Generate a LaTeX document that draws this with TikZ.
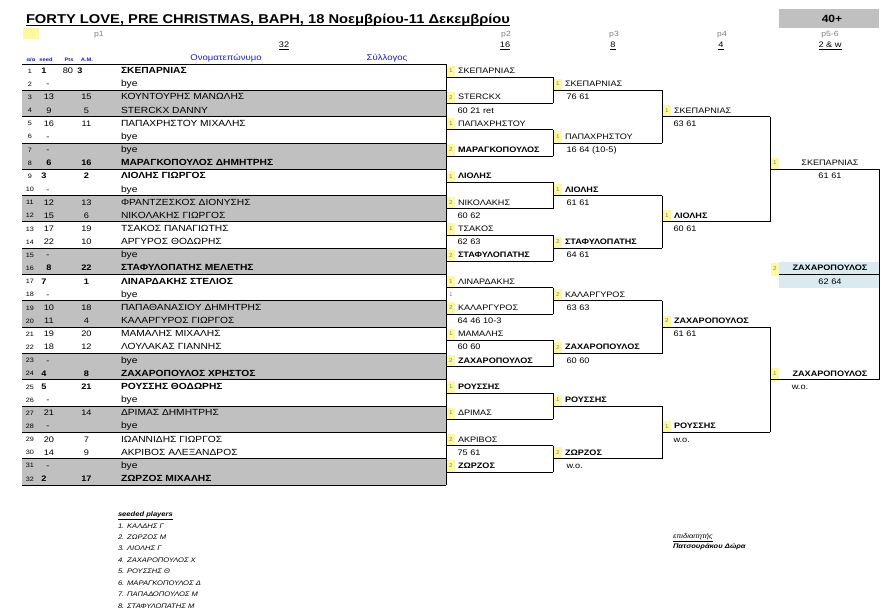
\documentclass[tikz,border=0pt]{standalone}
\usepackage{fontspec}
\setmainfont{Liberation Sans}[FakeStretch=1.15]
\definecolor{rowgrey}{RGB}{192,192,192}
\definecolor{seedyel}{RGB}{252,249,160}
\definecolor{finalblue}{RGB}{218,234,241}
\definecolor{hdrblue}{RGB}{25,25,210}
\definecolor{lblgrey}{RGB}{128,128,128}
\pgfmathdeclarefunction{yc}{1}{\pgfmathparse{64+(#1-0.5)*13.16}}
\pgfmathdeclarefunction{yb}{1}{\pgfmathparse{64+(#1)*13.16}}
\newcommand\fs[1]{\fontsize{#1}{#1}\selectfont}
\tikzset{
 base/.style={inner sep=0pt, outer sep=0pt},
 nm/.style={base, anchor=base west, font=\fs{7.9}},
 tnm/.style={base, anchor=base west, font=\fs{8.9}},
 ctrtxt/.style={base, anchor=base, font=\fs{8}},
 rownum/.style={base, anchor=base, font=\fs{6.3}},
 sdnum/.style={base, anchor=base, font=\fs{5.5}, text=lblgrey},
 score/.style={base, anchor=base west, font=\fs{8}},
 bline/.style={line width=0.9pt},
 tline/.style={line width=0.9pt},
 plbl/.style={base, anchor=base, font=\fs{7.5}, text=lblgrey},
 pnum/.style={base, anchor=base, font=\fs{8}},
 hdr/.style={base, anchor=base, font=\bfseries\fs{5}, text=hdrblue},
 foot/.style={base, anchor=base west, font=\itshape\fs{6.6}},
}
% #1 prefix, #2 x0, #3 x1, #4 row, #5 seed, #6 name, #7 bold
\newcommand\bentry[7]{%
 \coordinate (#1a#4) at (#2,{yb(#4)});
 \coordinate (#1b#4) at (#3,{yb(#4)});
 \fill[seedyel] (#2+0.8,{yb(#4-1)+1.5}) rectangle (#2+9.3,{yb(#4)-0.3});
 \draw[bline] (#1a#4) -- (#1b#4);
 \node[sdnum] (#1s#4) at (#2+5,{yc(#4)+2.2}) {#5};
 \node[nm] (#1n#4) at (#2+12,{yc(#4)+3}) {\ifnum#7=1 \bfseries\fi #6};
}
\begin{document}
\begin{tikzpicture}[x=1pt,y=-1pt]
\useasboundingbox[fill=white] (0,0) rectangle (892,616);

% ---------- header ----------
\node[base, anchor=base west, font=\bfseries\fs{12.8}] (title) at (26,23.3)
 {FORTY LOVE, PRE CHRISTMAS, ΒΑΡΗ, 18 Νοεμβρίου-11 Δεκεμβρίου};
\draw[line width=1.1pt] ([yshift=-2.3pt]title.base west) -- ([yshift=-2.3pt]title.base east);
\node[base, fill=rowgrey, minimum width=100pt, minimum height=19pt, anchor=north west] (agebox) at (779,9) {};
\node[base, anchor=base, font=\bfseries\fs{10.5}] (age) at (832,22.5) {40+};
\node[base, fill=seedyel, minimum width=16pt, minimum height=11pt, anchor=north west] (hy) at (23,28) {};

\node[plbl] (p1) at (99,36) {p1};
\node[plbl] (p2) at (506,36) {p2};
\node[plbl] (p3) at (614,36) {p3};
\node[plbl] (p4) at (722,36) {p4};
\node[plbl] (p5) at (830,36) {p5-6};
\node[pnum] (n32) at (284,47.5) {\underline{32}};
\node[pnum] (n16) at (505,47.5) {\underline{16}};
\node[pnum] (n8) at (613,47.5) {\underline{8}};
\node[pnum] (n4) at (721,47.5) {\underline{4}};
\node[pnum] (n2) at (830,47.5) {\underline{2 \& w}};

\node[hdr] (h1) at (31,61) {α/α};
\node[hdr] (h2) at (46,61) {seed};
\node[hdr] (h3) at (69,61) {Pts};
\node[hdr] (h4) at (87,61) {Α.Μ.};
\node[base, anchor=base, font=\fs{8.3}, text=hdrblue] (h5) at (226,60.5) {Ονοματεπώνυμο};
\node[base, anchor=base, font=\fs{8.3}, text=hdrblue] (h6) at (387,60.5) {Σύλλογος};

% ---------- table ----------
\foreach \i in {3,7,...,31}
  \fill[rowgrey] (22,{yb(\i-1)}) rectangle (446,{yb(\i+1)});
\foreach \k in {0,...,16}
  \draw[tline] (22,{yb(2*\k)}) -- (446,{yb(2*\k)});
\coordinate (vt) at (446,{yb(0)});
\coordinate (vb) at (446,{yb(32)});
\draw[bline] (vt) -- (vb);

\node[rownum] (no1) at (30,{yc(1)+2.6}) {1};
\node[ctrtxt, font=\bfseries\fs{8}] (sd1) at (44,{yc(1)+3}) {1};
\node[ctrtxt] (pt1) at (68,{yc(1)+3}) {80};
\node[ctrtxt, font=\bfseries\fs{8}] (am1) at (80,{yc(1)+3}) {3};
\node[tnm, font=\bfseries\fs{8.9}] (nm1) at (121,{yc(1)+3}) {ΣΚΕΠΑΡΝΙΑΣ};

\foreach \i/\s/\sx/\a/\n/\w in {
 2/-/48//bye/0,
 3/13/49/15/ΚΟΥΝΤΟΥΡΗΣ ΜΑΝΩΛΗΣ/0,
 4/9/49/5/STERCKX DANNY/0,
 5/16/49/11/ΠΑΠΑΧΡΗΣΤΟΥ ΜΙΧΑΛΗΣ/0,
 6/-/48//bye/0,
 7/-/48//bye/0,
 8/6/49/16/ΜΑΡΑΓΚΟΠΟΥΛΟΣ ΔΗΜΗΤΡΗΣ/1,
 9/3/44/2/ΛΙΟΛΗΣ ΓΙΩΡΓΟΣ/1,
 10/-/48//bye/0,
 11/12/49/13/ΦΡΑΝΤΖΕΣΚΟΣ ΔΙΟΝΥΣΗΣ/0,
 12/15/49/6/ΝΙΚΟΛΑΚΗΣ ΓΙΩΡΓΟΣ/0,
 13/17/49/19/ΤΣΑΚΟΣ ΠΑΝΑΓΙΩΤΗΣ/0,
 14/22/49/10/ΑΡΓΥΡΟΣ ΘΟΔΩΡΗΣ/0,
 15/-/48//bye/0,
 16/8/49/22/ΣΤΑΦΥΛΟΠΑΤΗΣ ΜΕΛΕΤΗΣ/1,
 17/7/44/1/ΛΙΝΑΡΔΑΚΗΣ ΣΤΕΛΙΟΣ/1,
 18/-/48//bye/0,
 19/10/49/18/ΠΑΠΑΘΑΝΑΣΙΟΥ ΔΗΜΗΤΡΗΣ/0,
 20/11/49/4/ΚΑΛΑΡΓΥΡΟΣ ΓΙΩΡΓΟΣ/0,
 21/19/49/20/ΜΑΜΑΛΗΣ ΜΙΧΑΛΗΣ/0,
 22/18/49/12/ΛΟΥΛΑΚΑΣ ΓΙΑΝΝΗΣ/0,
 23/-/48//bye/0,
 24/4/44/8/ΖΑΧΑΡΟΠΟΥΛΟΣ ΧΡΗΣΤΟΣ/1,
 25/5/44/21/ΡΟΥΣΣΗΣ ΘΟΔΩΡΗΣ/1,
 26/-/48//bye/0,
 27/21/49/14/ΔΡΙΜΑΣ ΔΗΜΗΤΡΗΣ/0,
 28/-/48//bye/0,
 29/20/49/7/ΙΩΑΝΝΙΔΗΣ ΓΙΩΡΓΟΣ/0,
 30/14/49/9/ΑΚΡΙΒΟΣ ΑΛΕΞΑΝΔΡΟΣ/0,
 31/-/48//bye/0,
 32/2/44/17/ΖΩΡΖΟΣ ΜΙΧΑΛΗΣ/1}{
  \node[rownum] (no\i) at (30,{yc(\i)+2.6}) {\i};
  \node[ctrtxt] (sd\i) at (\sx,{yc(\i)+3}) {\ifnum\w=1 \bfseries\fi\s};
  \node[ctrtxt] (am\i) at (86.5,{yc(\i)+3}) {\ifnum\w=1 \bfseries\fi\a};
  \node[tnm] (nm\i) at (121,{yc(\i)+3}) {\ifnum\w=1 \bfseries\fi\n};
}

% ---------- round 2 (p2) ----------
\foreach \r/\s/\n/\w in {1/1/ΣΚΕΠΑΡΝΙΑΣ/0, 3/2/STERCKX/0, 5/1/ΠΑΠΑΧΡΗΣΤΟΥ/0,
  7/2/ΜΑΡΑΓΚΟΠΟΥΛΟΣ/1, 9/1/ΛΙΟΛΗΣ/1, 11/2/ΝΙΚΟΛΑΚΗΣ/0, 13/1/ΤΣΑΚΟΣ/0,
  15/2/ΣΤΑΦΥΛΟΠΑΤΗΣ/1, 17/1/ΛΙΝΑΡΔΑΚΗΣ/0, 19/2/ΚΑΛΑΡΓΥΡΟΣ/0, 21/1/ΜΑΜΑΛΗΣ/0,
  23/2/ΖΑΧΑΡΟΠΟΥΛΟΣ/1, 25/1/ΡΟΥΣΣΗΣ/1, 27/1/ΔΡΙΜΑΣ/0, 29/2/ΑΚΡΙΒΟΣ/0, 31/2/ΖΩΡΖΟΣ/1}
  {\bentry{qa}{446}{553}{\r}{\s}{\n}{\w}}
\foreach \r/\t in {4/60 21 ret, 12/60 62, 14/62 63, 20/64 46 10-3, 22/60 60, 30/75 61}
  \node[score] (qc\r) at (457.5,{yc(\r)+3}) {\t};
\node[sdnum] (qx18) at (451,{yc(18)+2.2}) {1};
\foreach \r in {1,5,...,29}{
  \pgfmathtruncatemacro\rr{\r+2}
  \draw[bline] (qab\r) -- (qab\rr);
}

% ---------- round 3 (p3) ----------
\foreach \r/\s/\n/\w in {2/1/ΣΚΕΠΑΡΝΙΑΣ/0, 6/1/ΠΑΠΑΧΡΗΣΤΟΥ/0, 10/1/ΛΙΟΛΗΣ/1,
  14/2/ΣΤΑΦΥΛΟΠΑΤΗΣ/1, 18/2/ΚΑΛΑΡΓΥΡΟΣ/0, 22/2/ΖΑΧΑΡΟΠΟΥΛΟΣ/1, 26/1/ΡΟΥΣΣΗΣ/1, 30/2/ΖΩΡΖΟΣ/1}
  {\bentry{qb}{553}{662}{\r}{\s}{\n}{\w}}
\foreach \r/\t in {3/76 61, 7/{16 64 (10-5)}, 11/61 61, 15/64 61, 19/63 63, 23/60 60, 31/w.o.}
  \node[score] (qbc\r) at (566.5,{yc(\r)+3}) {\t};
\foreach \r in {2,10,18,26}{
  \pgfmathtruncatemacro\rr{\r+4}
  \draw[bline] (qbb\r) -- (qbb\rr);
}

% ---------- round 4 (p4) ----------
\foreach \r/\s/\n/\w in {4/1/ΣΚΕΠΑΡΝΙΑΣ/0, 12/1/ΛΙΟΛΗΣ/1, 20/2/ΖΑΧΑΡΟΠΟΥΛΟΣ/1, 28/1/ΡΟΥΣΣΗΣ/1}
  {\bentry{qd}{662}{770}{\r}{\s}{\n}{\w}}
\foreach \r/\t in {5/63 61, 13/60 61, 21/61 61, 29/w.o.}
  \node[score] (qdc\r) at (673.5,{yc(\r)+3}) {\t};
\draw[bline] (qdb4) -- (qdb12);
\draw[bline] (qdb20) -- (qdb28);

% ---------- round 5 (p5-6) ----------
\foreach \r/\s/\n/\w in {8/1/ΣΚΕΠΑΡΝΙΑΣ/0, 24/1/ΖΑΧΑΡΟΠΟΥΛΟΣ/1}{
  \coordinate (qea\r) at (770,{yb(\r)});
  \coordinate (qeb\r) at (879,{yb(\r)});
  \fill[seedyel] (770.5,{yb(\r-1)+1.5}) rectangle (779,{yb(\r)+1});
  \draw[bline] (qea\r) -- (qeb\r);
  \node[sdnum] (qes\r) at (774.8,{yc(\r)+2.2}) {\s};
  \node[nm, anchor=base] (qen\r) at (830,{yc(\r)+3}) {\ifnum\w=1 \bfseries\fi\n};
}
\node[score, anchor=base] (qec9) at (830,{yc(9)+3}) {61 61};
\node[score, anchor=base] (qec25) at (800,{yc(25)+3}) {w.o.};
\draw[bline] (qeb8) -- (qeb24);

% ---------- final ----------
\fill[finalblue] (779,{yb(15)+0.5}) rectangle (879,{yb(17)+0.5});
\fill[seedyel] (770.5,{yb(15)+1.5}) rectangle (779,{yb(16)+1});
\coordinate (fa) at (779,{yb(16)});
\coordinate (fb) at (879,{yb(16)});
\draw[bline] (fa) -- (fb);
\node[sdnum] (fs) at (774.8,{yc(16)+2.2}) {2};
\node[nm, anchor=base, font=\bfseries\fs{7.9}] (fn) at (830,{yc(16)+3}) {ΖΑΧΑΡΟΠΟΥΛΟΣ};
\node[score, anchor=base] (fc) at (830,{yc(17)+3}) {62 64};

% ---------- footer ----------
\node[foot, font=\bfseries\itshape\fs{6.6}] (sp0) at (118,516.5) {\underline{seeded players}};
\foreach \k/\t in {1/ΚΑΛΔΗΣ Γ, 2/ΖΩΡΖΟΣ Μ, 3/ΛΙΟΛΗΣ Γ, 4/ΖΑΧΑΡΟΠΟΥΛΟΣ Χ, 5/ΡΟΥΣΣΗΣ Θ,
  6/ΜΑΡΑΓΚΟΠΟΥΛΟΣ Δ, 7/ΠΑΠΑΔΟΠΟΥΛΟΣ Μ, 8/ΣΤΑΦΥΛΟΠΑΤΗΣ Μ}
  \node[foot] (sp\k) at (118,{528+(\k-1)*11.45}) {\k. \t};
\node[foot] (ref1) at (673,538) {\underline{επιδιαιτητής}};
\node[foot, font=\bfseries\itshape\fs{6.6}] (ref2) at (673,548.5) {Πατσουράκου Δώρα};
\end{tikzpicture}
\end{document}
